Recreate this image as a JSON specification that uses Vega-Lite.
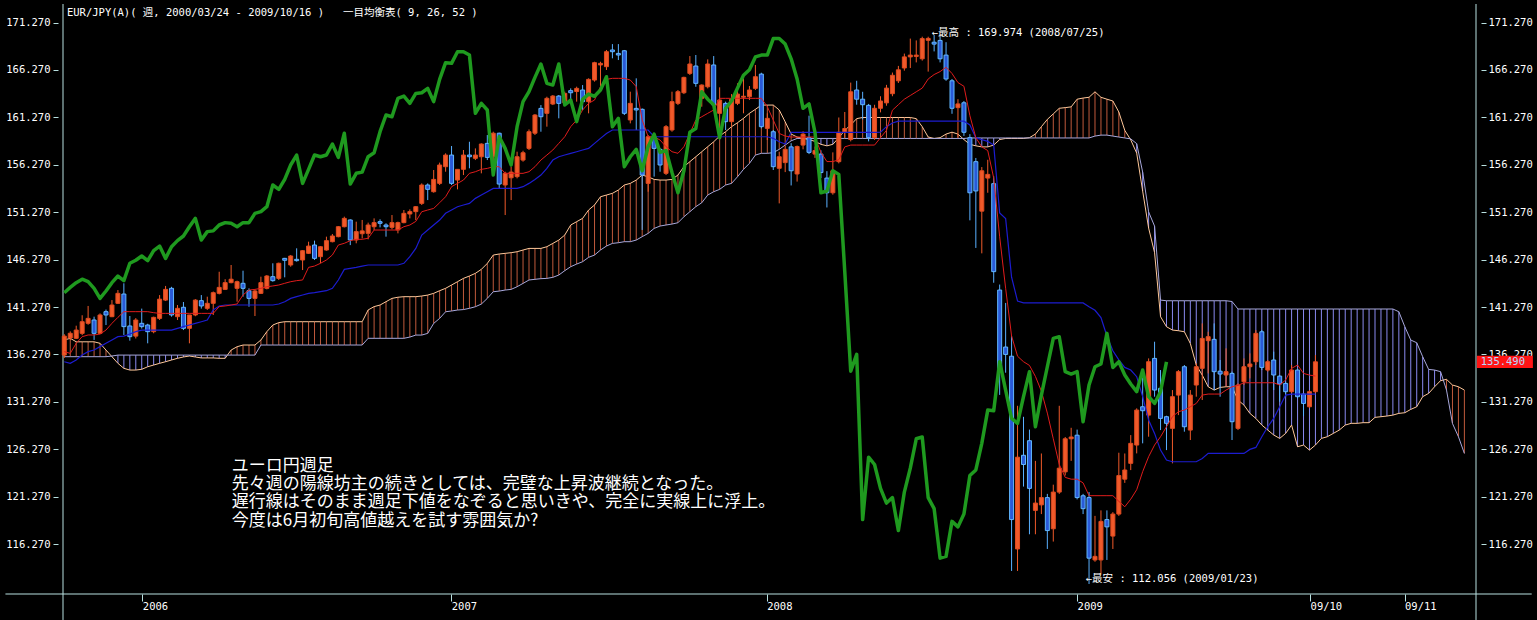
{
"$schema": "https://vega.github.io/schema/vega-lite/v6.json",
"width": 1423,
"height": 590,
"autosize": {"type": "none"},
"padding": {"left": 58, "top": 4, "right": 56, "bottom": 26},
"background": "#000000",
"config": {"view": {"stroke": null}, "axis": {"grid": false, "title": null, "domain": false, "tickColor": "#b8e0e0", "labelColor": "#ffffff", "labelFont": "DejaVu Sans Mono", "labelFontSize": 10.5, "labelOverlap": false, "labelFlush": false}},
"datasets": {
"frame": [
{"x1": -0.217, "x2": -0.217, "y1": 108.26, "y2": 173.23},
{"x1": 236.95, "x2": 236.95, "y1": 108.26, "y2": 173.23},
{"x1": -9.88, "x2": 246.3, "y1": 111.0, "y2": 111.0}
],
"candles": [
{"i":0,"o":136.2,"h":138.4,"l":135.9,"c":138.2},
{"i":1,"o":138.0,"h":138.7,"l":137.8,"c":138.5},
{"i":2,"o":137.97,"h":139.3,"l":137.9,"c":138.84},
{"i":3,"o":138.49,"h":140.4,"l":138.3,"c":139.72},
{"i":4,"o":139.55,"h":141.38,"l":139.4,"c":140.07},
{"i":5,"o":139.9,"h":140.25,"l":137.8,"c":138.49},
{"i":6,"o":138.49,"h":140.6,"l":138.4,"c":140.43},
{"i":7,"o":140.78,"h":141.0,"l":139.37,"c":140.43},
{"i":8,"o":140.25,"h":142.0,"l":140.2,"c":141.48},
{"i":9,"o":141.66,"h":143.06,"l":141.6,"c":142.71},
{"i":10,"o":142.64,"h":143.77,"l":138.32,"c":139.2},
{"i":11,"o":139.27,"h":140.32,"l":137.72,"c":138.14},
{"i":12,"o":138.2,"h":140.1,"l":137.95,"c":139.9},
{"i":13,"o":139.55,"h":141.1,"l":139.0,"c":139.2},
{"i":14,"o":139.37,"h":139.5,"l":137.44,"c":138.67},
{"i":15,"o":138.67,"h":140.25,"l":138.5,"c":140.18},
{"i":16,"o":140.07,"h":142.53,"l":139.9,"c":142.1},
{"i":17,"o":142.0,"h":143.49,"l":141.9,"c":143.13},
{"i":18,"o":143.24,"h":143.4,"l":140.25,"c":140.43},
{"i":19,"o":140.25,"h":141.48,"l":139.9,"c":141.13},
{"i":20,"o":141.24,"h":141.8,"l":138.84,"c":139.02},
{"i":21,"o":139.02,"h":140.43,"l":137.44,"c":140.43},
{"i":22,"o":140.43,"h":142.1,"l":140.3,"c":142.0},
{"i":23,"o":141.94,"h":142.53,"l":141.1,"c":141.38},
{"i":24,"o":141.13,"h":142.36,"l":140.96,"c":141.66},
{"i":25,"o":141.66,"h":142.9,"l":140.43,"c":142.78},
{"i":26,"o":142.71,"h":144.99,"l":142.6,"c":143.34},
{"i":27,"o":143.13,"h":144.2,"l":143.06,"c":143.84},
{"i":28,"o":143.84,"h":145.7,"l":143.77,"c":144.2},
{"i":29,"o":143.24,"h":144.05,"l":141.83,"c":143.94},
{"i":30,"o":143.77,"h":145.1,"l":142.36,"c":143.24},
{"i":31,"o":142.99,"h":143.24,"l":141.3,"c":142.18},
{"i":32,"o":142.18,"h":143.13,"l":140.32,"c":142.96},
{"i":33,"o":142.71,"h":144.47,"l":142.64,"c":143.84},
{"i":34,"o":143.24,"h":144.64,"l":143.13,"c":144.54},
{"i":35,"o":144.47,"h":145.88,"l":143.94,"c":144.05},
{"i":36,"o":144.29,"h":145.95,"l":144.12,"c":145.88},
{"i":37,"o":146.4,"h":146.45,"l":144.4,"c":146.2},
{"i":38,"o":145.7,"h":146.76,"l":145.52,"c":146.65},
{"i":39,"o":146.3,"h":147.46,"l":146.06,"c":146.16},
{"i":40,"o":146.23,"h":147.28,"l":145.17,"c":147.21},
{"i":41,"o":146.93,"h":148.16,"l":146.86,"c":147.7},
{"i":42,"o":147.81,"h":148.27,"l":146.23,"c":146.4},
{"i":43,"o":146.58,"h":147.7,"l":145.88,"c":147.63},
{"i":44,"o":147.28,"h":148.69,"l":147.21,"c":148.27},
{"i":45,"o":148.16,"h":148.97,"l":148.09,"c":148.76},
{"i":46,"o":148.69,"h":149.81,"l":148.62,"c":149.74},
{"i":47,"o":149.74,"h":150.8,"l":149.67,"c":150.62},
{"i":48,"o":150.45,"h":150.52,"l":147.8,"c":148.34},
{"i":49,"o":148.34,"h":150.27,"l":147.99,"c":149.22},
{"i":50,"o":149.0,"h":150.45,"l":148.5,"c":149.3},
{"i":51,"o":149.04,"h":150.17,"l":148.41,"c":149.92},
{"i":52,"o":149.74,"h":150.62,"l":149.39,"c":150.17},
{"i":53,"o":150.27,"h":150.52,"l":149.67,"c":150.1},
{"i":54,"o":149.92,"h":150.1,"l":148.69,"c":149.74},
{"i":55,"o":149.67,"h":150.97,"l":149.46,"c":150.17},
{"i":56,"o":149.4,"h":150.27,"l":149.04,"c":150.17},
{"i":57,"o":150.17,"h":151.5,"l":150.1,"c":151.15},
{"i":58,"o":151.08,"h":151.57,"l":150.62,"c":151.33},
{"i":59,"o":151.33,"h":151.92,"l":150.44,"c":151.85},
{"i":60,"o":152.2,"h":154.31,"l":152.03,"c":154.14},
{"i":61,"o":154.14,"h":154.31,"l":152.55,"c":153.68},
{"i":62,"o":153.43,"h":155.72,"l":153.33,"c":154.73},
{"i":63,"o":154.31,"h":156.5,"l":154.14,"c":156.25},
{"i":64,"o":156.07,"h":157.48,"l":155.54,"c":157.3},
{"i":65,"o":157.3,"h":158.25,"l":154.14,"c":154.31},
{"i":66,"o":154.66,"h":155.79,"l":153.68,"c":155.79},
{"i":67,"o":155.79,"h":157.83,"l":155.19,"c":157.3},
{"i":68,"o":157.3,"h":158.7,"l":155.9,"c":157.12},
{"i":69,"o":156.95,"h":158.0,"l":156.77,"c":157.3},
{"i":70,"o":157.12,"h":158.53,"l":155.37,"c":158.46},
{"i":71,"o":158.53,"h":159.41,"l":156.77,"c":157.05},
{"i":72,"o":157.12,"h":159.76,"l":156.07,"c":159.6},
{"i":73,"o":159.6,"h":159.66,"l":153.8,"c":154.24},
{"i":74,"o":154.14,"h":155.54,"l":150.97,"c":155.37},
{"i":75,"o":154.9,"h":156.07,"l":152.55,"c":155.5},
{"i":76,"o":155.02,"h":157.65,"l":154.84,"c":157.12},
{"i":77,"o":156.77,"h":157.75,"l":156.6,"c":157.54},
{"i":78,"o":158.0,"h":160.0,"l":157.83,"c":159.76},
{"i":79,"o":159.6,"h":161.62,"l":159.41,"c":161.52},
{"i":80,"o":162.22,"h":162.57,"l":159.76,"c":161.34},
{"i":81,"o":161.7,"h":163.45,"l":160.29,"c":163.28},
{"i":82,"o":162.68,"h":163.63,"l":162.57,"c":163.52},
{"i":83,"o":163.52,"h":163.63,"l":161.17,"c":162.75},
{"i":84,"o":162.82,"h":163.98,"l":162.57,"c":163.8},
{"i":85,"o":164.09,"h":164.33,"l":162.82,"c":163.87},
{"i":86,"o":164.0,"h":164.51,"l":162.93,"c":164.33},
{"i":87,"o":164.16,"h":164.68,"l":162.05,"c":162.93},
{"i":88,"o":162.93,"h":165.39,"l":161.7,"c":165.28},
{"i":89,"o":165.21,"h":167.14,"l":165.04,"c":167.04},
{"i":90,"o":166.8,"h":167.14,"l":164.51,"c":166.97},
{"i":91,"o":166.62,"h":168.38,"l":166.27,"c":168.2},
{"i":92,"o":168.38,"h":169.0,"l":167.5,"c":168.2},
{"i":93,"o":168.02,"h":169.0,"l":167.32,"c":167.85},
{"i":94,"o":168.3,"h":168.38,"l":161.52,"c":161.7},
{"i":95,"o":161.0,"h":163.98,"l":160.64,"c":162.75},
{"i":96,"o":162.22,"h":165.39,"l":159.94,"c":162.05},
{"i":97,"o":162.12,"h":162.22,"l":149.4,"c":155.19},
{"i":98,"o":154.31,"h":159.41,"l":153.43,"c":159.23},
{"i":99,"o":159.23,"h":159.58,"l":155.02,"c":158.0},
{"i":100,"o":157.9,"h":158.0,"l":155.54,"c":156.25},
{"i":101,"o":155.37,"h":160.46,"l":155.19,"c":160.29},
{"i":102,"o":159.94,"h":163.98,"l":159.76,"c":162.93},
{"i":103,"o":162.75,"h":164.16,"l":162.57,"c":163.98},
{"i":104,"o":163.87,"h":165.56,"l":163.73,"c":165.49},
{"i":105,"o":165.91,"h":167.74,"l":165.74,"c":166.9},
{"i":106,"o":166.69,"h":167.85,"l":164.5,"c":164.86},
{"i":107,"o":163.28,"h":164.75,"l":162.4,"c":164.68},
{"i":108,"o":164.5,"h":167.39,"l":164.33,"c":166.9},
{"i":109,"o":166.8,"h":167.74,"l":162.4,"c":162.58},
{"i":110,"o":161.7,"h":164.44,"l":159.94,"c":163.1},
{"i":111,"o":162.75,"h":162.93,"l":159.94,"c":160.82},
{"i":112,"o":160.82,"h":163.73,"l":160.29,"c":163.17},
{"i":113,"o":162.75,"h":164.86,"l":162.57,"c":163.73},
{"i":114,"o":163.4,"h":165.39,"l":161.7,"c":163.5},
{"i":115,"o":163.45,"h":164.58,"l":163.1,"c":164.16},
{"i":116,"o":164.33,"h":166.8,"l":164.16,"c":165.56},
{"i":117,"o":165.84,"h":165.98,"l":160.11,"c":160.29},
{"i":118,"o":160.11,"h":161.7,"l":158.88,"c":161.17},
{"i":119,"o":159.76,"h":159.94,"l":155.72,"c":156.07},
{"i":120,"o":155.9,"h":157.65,"l":152.2,"c":157.12},
{"i":121,"o":156.5,"h":158.3,"l":155.5,"c":157.9},
{"i":122,"o":158.16,"h":158.55,"l":154.09,"c":155.64},
{"i":123,"o":155.3,"h":158.3,"l":154.5,"c":158.2},
{"i":124,"o":158.35,"h":159.8,"l":157.9,"c":159.5},
{"i":125,"o":159.13,"h":161.45,"l":157.4,"c":157.58},
{"i":126,"o":157.4,"h":158.2,"l":157.0,"c":157.77},
{"i":127,"o":157.4,"h":157.8,"l":154.87,"c":155.45},
{"i":128,"o":154.87,"h":155.6,"l":151.77,"c":153.32},
{"i":129,"o":153.32,"h":157.58,"l":153.12,"c":155.64},
{"i":130,"o":156.6,"h":161.26,"l":156.42,"c":159.7},
{"i":131,"o":159.7,"h":161.84,"l":159.13,"c":160.1},
{"i":132,"o":158.93,"h":164.94,"l":158.74,"c":163.97},
{"i":133,"o":164.16,"h":165.13,"l":162.61,"c":163.19},
{"i":134,"o":163.19,"h":163.97,"l":161.06,"c":162.61},
{"i":135,"o":162.54,"h":162.69,"l":158.74,"c":159.13},
{"i":136,"o":159.13,"h":162.6,"l":158.9,"c":162.23},
{"i":137,"o":162.23,"h":163.5,"l":161.8,"c":163.0},
{"i":138,"o":162.8,"h":164.7,"l":162.5,"c":164.36},
{"i":139,"o":163.77,"h":166.0,"l":163.5,"c":165.71},
{"i":140,"o":165.13,"h":166.7,"l":164.9,"c":166.29},
{"i":141,"o":166.48,"h":168.0,"l":166.2,"c":167.65},
{"i":142,"o":167.65,"h":169.58,"l":166.48,"c":167.84},
{"i":143,"o":167.7,"h":169.39,"l":167.07,"c":167.84},
{"i":144,"o":167.45,"h":169.78,"l":167.26,"c":169.58},
{"i":145,"o":169.4,"h":169.78,"l":166.1,"c":169.6},
{"i":146,"o":169.2,"h":169.974,"l":168.23,"c":169.0},
{"i":147,"o":169.39,"h":169.8,"l":167.07,"c":167.45},
{"i":148,"o":167.84,"h":169.2,"l":165.13,"c":165.32},
{"i":149,"o":165.13,"h":165.32,"l":161.65,"c":162.23},
{"i":150,"o":162.3,"h":163.19,"l":159.13,"c":162.69},
{"i":151,"o":162.81,"h":163.0,"l":159.32,"c":159.7},
{"i":152,"o":159.13,"h":159.5,"l":150.41,"c":153.32},
{"i":153,"o":156.6,"h":156.99,"l":147.5,"c":153.51},
{"i":154,"o":151.38,"h":156.03,"l":146.93,"c":155.64},
{"i":155,"o":154.87,"h":156.8,"l":153.32,"c":155.26},
{"i":156,"o":154.28,"h":155.06,"l":143.83,"c":145.0},
{"i":157,"o":143.06,"h":143.64,"l":132.0,"c":134.5},
{"i":158,"o":137.05,"h":141.7,"l":134.34,"c":136.27},
{"i":159,"o":136.08,"h":138.2,"l":113.43,"c":118.85},
{"i":160,"o":115.75,"h":130.85,"l":113.43,"c":125.43},
{"i":161,"o":125.63,"h":129.69,"l":122.33,"c":124.66},
{"i":162,"o":127.17,"h":128.34,"l":117.3,"c":122.14},
{"i":163,"o":119.82,"h":125.04,"l":117.3,"c":120.59},
{"i":164,"o":120.4,"h":125.82,"l":119.43,"c":121.17},
{"i":165,"o":121.17,"h":121.56,"l":115.75,"c":117.69},
{"i":166,"o":117.88,"h":122.53,"l":116.53,"c":121.75},
{"i":167,"o":121.75,"h":130.85,"l":121.56,"c":124.27},
{"i":168,"o":123.88,"h":127.56,"l":123.5,"c":127.37},
{"i":169,"o":127.37,"h":128.53,"l":125.04,"c":127.56},
{"i":170,"o":127.75,"h":128.34,"l":120.98,"c":121.17},
{"i":171,"o":121.36,"h":121.56,"l":119.43,"c":120.0},
{"i":172,"o":121.17,"h":121.75,"l":112.056,"c":114.78},
{"i":173,"o":114.59,"h":119.24,"l":114.4,"c":114.97},
{"i":174,"o":114.59,"h":119.82,"l":113.04,"c":118.66},
{"i":175,"o":118.85,"h":119.82,"l":114.59,"c":118.08},
{"i":176,"o":117.11,"h":119.63,"l":115.75,"c":119.43},
{"i":177,"o":119.43,"h":125.9,"l":119.24,"c":123.49},
{"i":178,"o":123.11,"h":125.82,"l":122.72,"c":124.08},
{"i":179,"o":124.78,"h":127.76,"l":124.07,"c":126.89},
{"i":180,"o":126.71,"h":130.58,"l":125.83,"c":130.4},
{"i":181,"o":130.75,"h":134.62,"l":126.89,"c":130.33},
{"i":182,"o":129.87,"h":135.85,"l":127.59,"c":135.5},
{"i":183,"o":135.85,"h":137.61,"l":131.81,"c":132.51},
{"i":184,"o":132.69,"h":134.62,"l":128.29,"c":129.52},
{"i":185,"o":129.7,"h":129.8,"l":126.18,"c":129.0},
{"i":186,"o":128.47,"h":132.51,"l":124.78,"c":131.81},
{"i":187,"o":131.98,"h":134.62,"l":129.87,"c":134.45},
{"i":188,"o":134.97,"h":135.15,"l":128.12,"c":128.64},
{"i":189,"o":128.29,"h":132.51,"l":127.24,"c":131.98},
{"i":190,"o":133.04,"h":135.32,"l":131.81,"c":134.97},
{"i":191,"o":134.8,"h":139.54,"l":131.46,"c":137.96},
{"i":192,"o":137.72,"h":138.66,"l":134.27,"c":138.14},
{"i":193,"o":137.86,"h":139.54,"l":132.51,"c":134.45},
{"i":194,"o":134.5,"h":135.68,"l":131.81,"c":134.2},
{"i":195,"o":134.1,"h":136.91,"l":132.86,"c":134.45},
{"i":196,"o":134.27,"h":134.45,"l":127.24,"c":129.17},
{"i":197,"o":128.47,"h":133.21,"l":128.29,"c":133.04},
{"i":198,"o":133.39,"h":135.85,"l":133.04,"c":134.97},
{"i":199,"o":134.97,"h":136.38,"l":133.74,"c":135.26},
{"i":200,"o":135.5,"h":138.84,"l":135.15,"c":138.49},
{"i":201,"o":138.66,"h":138.84,"l":134.62,"c":134.9},
{"i":202,"o":134.62,"h":135.68,"l":134.45,"c":135.5},
{"i":203,"o":135.68,"h":136.56,"l":132.51,"c":134.1},
{"i":204,"o":133.98,"h":134.1,"l":131.28,"c":133.15},
{"i":205,"o":133.21,"h":133.4,"l":131.81,"c":132.34},
{"i":206,"o":132.34,"h":135.15,"l":132.16,"c":134.62},
{"i":207,"o":134.62,"h":134.7,"l":131.63,"c":131.81},
{"i":208,"o":132.09,"h":132.16,"l":129.77,"c":131.1},
{"i":209,"o":130.75,"h":132.51,"l":130.6,"c":132.34},
{"i":210,"o":132.34,"h":136.2,"l":132.16,"c":135.49}
],
"lines": [
{"i":0,"tk":136.56,"kj":135.5},{"i":1,"tk":136.38,"kj":135.33},{"i":2,"tk":137.44,"kj":135.68},{"i":3,"tk":138.14,"kj":136.21},{"i":4,"tk":138.32,"kj":136.56},{"i":5,"tk":138.32,"kj":136.73},{"i":6,"tk":138.42,"kj":137.09},{"i":7,"tk":138.84,"kj":137.44},{"i":8,"tk":139.55,"kj":137.79},{"i":9,"tk":140.18,"kj":138.14},
{"i":10,"tk":140.78,"kj":138.2},{"i":11,"tk":140.78,"kj":138.42},{"i":12,"tk":140.78,"kj":138.67},{"i":13,"tk":140.78,"kj":138.84},{"i":14,"tk":140.78,"kj":138.84},{"i":15,"tk":140.67,"kj":138.84},{"i":16,"tk":140.6,"kj":138.84},{"i":17,"tk":140.6,"kj":138.84},{"i":18,"tk":140.6,"kj":138.84},{"i":19,"tk":140.6,"kj":139.02},
{"i":20,"tk":140.6,"kj":139.2},{"i":21,"tk":140.6,"kj":139.37},{"i":22,"tk":140.6,"kj":139.55},{"i":23,"tk":140.6,"kj":139.72},{"i":24,"tk":140.6,"kj":139.9},{"i":25,"tk":140.6,"kj":140.95},{"i":26,"tk":141.31,"kj":141.38},{"i":27,"tk":141.38,"kj":141.48},{"i":28,"tk":141.48,"kj":141.48},{"i":29,"tk":141.59,"kj":141.48},
{"i":30,"tk":142.54,"kj":141.48},{"i":31,"tk":143.06,"kj":141.48},{"i":32,"tk":143.13,"kj":141.48},{"i":33,"tk":143.24,"kj":141.48},{"i":34,"tk":143.41,"kj":141.48},{"i":35,"tk":143.49,"kj":141.48},{"i":36,"tk":143.59,"kj":141.59},{"i":37,"tk":143.77,"kj":141.83},{"i":38,"tk":143.94,"kj":142.18},{"i":39,"tk":144.05,"kj":142.36},
{"i":40,"tk":144.12,"kj":142.54},{"i":41,"tk":145.45,"kj":142.71},{"i":42,"tk":145.59,"kj":142.78},{"i":43,"tk":145.88,"kj":142.89},{"i":44,"tk":146.23,"kj":142.99},{"i":45,"tk":146.76,"kj":143.24},{"i":46,"tk":147.81,"kj":144.12},{"i":47,"tk":147.99,"kj":145.24},{"i":48,"tk":148.27,"kj":145.35},{"i":49,"tk":148.41,"kj":145.45},
{"i":50,"tk":148.41,"kj":145.59},{"i":51,"tk":148.52,"kj":145.7},{"i":52,"tk":149.39,"kj":145.7},{"i":53,"tk":149.39,"kj":145.7},{"i":54,"tk":149.39,"kj":145.7},{"i":55,"tk":149.39,"kj":145.7},{"i":56,"tk":149.39,"kj":145.7},{"i":57,"tk":149.74,"kj":145.88},{"i":58,"tk":149.92,"kj":146.58},{"i":59,"tk":150.3,"kj":147.45},
{"i":60,"tk":151.32,"kj":148.86},{"i":61,"tk":151.5,"kj":149.39},{"i":62,"tk":151.67,"kj":149.92},{"i":63,"tk":152.27,"kj":150.44},{"i":64,"tk":152.9,"kj":151.15},{"i":65,"tk":153.96,"kj":151.5},{"i":66,"tk":154.31,"kj":151.85},{"i":67,"tk":154.66,"kj":152.03},{"i":68,"tk":155.37,"kj":152.2},{"i":69,"tk":155.54,"kj":152.73},
{"i":70,"tk":155.79,"kj":153.08},{"i":71,"tk":155.89,"kj":153.43},{"i":72,"tk":156.07,"kj":153.78},{"i":73,"tk":156.07,"kj":153.78},{"i":74,"tk":155.37,"kj":153.78},{"i":75,"tk":155.37,"kj":153.78},{"i":76,"tk":155.37,"kj":153.78},{"i":77,"tk":155.37,"kj":153.96},{"i":78,"tk":155.54,"kj":154.31},{"i":79,"tk":156.07,"kj":154.73},
{"i":80,"tk":156.77,"kj":155.19},{"i":81,"tk":157.3,"kj":155.89},{"i":82,"tk":157.83,"kj":156.77},{"i":83,"tk":158.53,"kj":157.12},{"i":84,"tk":159.23,"kj":157.3},{"i":85,"tk":160.29,"kj":157.48},{"i":86,"tk":160.99,"kj":157.65},{"i":87,"tk":162.05,"kj":157.83},{"i":88,"tk":162.75,"kj":158.0},{"i":89,"tk":163.1,"kj":158.53},
{"i":90,"tk":164.51,"kj":159.06},{"i":91,"tk":165.28,"kj":159.58},{"i":92,"tk":165.39,"kj":159.94},{"i":93,"tk":165.39,"kj":159.94},{"i":94,"tk":165.39,"kj":159.94},{"i":95,"tk":165.21,"kj":159.94},{"i":96,"tk":164.51,"kj":159.94},{"i":97,"tk":160.99,"kj":159.94},{"i":98,"tk":159.23,"kj":159.94},{"i":99,"tk":159.23,"kj":159.23},
{"i":100,"tk":158.88,"kj":159.23},{"i":101,"tk":158.18,"kj":159.23},{"i":102,"tk":157.65,"kj":159.23},{"i":103,"tk":157.48,"kj":159.23},{"i":104,"tk":158.18,"kj":159.23},{"i":105,"tk":159.58,"kj":159.23},{"i":106,"tk":160.99,"kj":159.23},{"i":107,"tk":161.34,"kj":159.23},{"i":108,"tk":161.7,"kj":159.23},{"i":109,"tk":162.05,"kj":159.23},
{"i":110,"tk":163.28,"kj":159.23},{"i":111,"tk":163.28,"kj":159.23},{"i":112,"tk":163.28,"kj":159.23},{"i":113,"tk":163.28,"kj":159.23},{"i":114,"tk":163.28,"kj":159.23},{"i":115,"tk":163.28,"kj":159.23},{"i":116,"tk":163.28,"kj":159.23},{"i":117,"tk":163.28,"kj":159.23},{"i":118,"tk":162.4,"kj":159.23},{"i":119,"tk":160.99,"kj":159.06},
{"i":120,"tk":159.58,"kj":158.7},{"i":121,"tk":159.3,"kj":158.46},{"i":122,"tk":159.2,"kj":159.7},{"i":123,"tk":159.2,"kj":159.7},{"i":124,"tk":159.2,"kj":159.7},{"i":125,"tk":159.2,"kj":159.7},{"i":126,"tk":159.2,"kj":159.7},{"i":127,"tk":157.58,"kj":159.7},{"i":128,"tk":156.61,"kj":159.7},{"i":129,"tk":156.61,"kj":159.7},
{"i":130,"tk":156.8,"kj":159.7},{"i":131,"tk":158.16,"kj":159.7},{"i":132,"tk":158.35,"kj":159.7},{"i":133,"tk":158.35,"kj":159.7},{"i":134,"tk":158.35,"kj":159.7},{"i":135,"tk":158.35,"kj":159.7},{"i":136,"tk":158.35,"kj":159.7},{"i":137,"tk":159.13,"kj":159.71},{"i":138,"tk":159.9,"kj":160.29},{"i":139,"tk":162.03,"kj":160.68},
{"i":140,"tk":162.61,"kj":160.87},{"i":141,"tk":163.19,"kj":160.87},{"i":142,"tk":163.58,"kj":160.87},{"i":143,"tk":163.97,"kj":160.87},{"i":144,"tk":164.36,"kj":160.87},{"i":145,"tk":165.32,"kj":160.87},{"i":146,"tk":165.79,"kj":160.87},{"i":147,"tk":166.1,"kj":160.87},{"i":148,"tk":166.56,"kj":160.87},{"i":149,"tk":165.9,"kj":160.87},
{"i":150,"tk":164.94,"kj":160.87},{"i":151,"tk":164.55,"kj":160.87},{"i":152,"tk":161.45,"kj":160.48},{"i":153,"tk":159.13,"kj":159.13},{"i":154,"tk":158.16,"kj":158.93},{"i":155,"tk":157.77,"kj":158.74},{"i":156,"tk":154.87,"kj":158.35},{"i":157,"tk":148.67,"kj":151.19},{"i":158,"tk":143.25,"kj":150.6},{"i":159,"tk":138.21,"kj":144.41},
{"i":160,"tk":136.08,"kj":141.89},{"i":161,"tk":135.5,"kj":141.7},{"i":162,"tk":135.11,"kj":141.7},{"i":163,"tk":133.95,"kj":141.7},{"i":164,"tk":132.4,"kj":141.7},{"i":165,"tk":130.08,"kj":141.7},{"i":166,"tk":127.37,"kj":141.7},{"i":167,"tk":124.66,"kj":141.7},{"i":168,"tk":123.3,"kj":141.7},{"i":169,"tk":123.11,"kj":141.7},
{"i":170,"tk":123.11,"kj":141.7},{"i":171,"tk":122.72,"kj":141.7},{"i":172,"tk":121.37,"kj":141.3},{"i":173,"tk":121.37,"kj":140.92},{"i":174,"tk":121.37,"kj":140.15},{"i":175,"tk":121.37,"kj":138.21},{"i":176,"tk":121.37,"kj":136.66},{"i":177,"tk":120.78,"kj":135.7},{"i":178,"tk":120.2,"kj":134.9},{"i":179,"tk":121.0,"kj":134.62},
{"i":180,"tk":122.0,"kj":133.92},{"i":181,"tk":123.9,"kj":131.81},{"i":182,"tk":125.48,"kj":129.35},{"i":183,"tk":126.71,"kj":127.94},{"i":184,"tk":127.59,"kj":126.18},{"i":185,"tk":128.64,"kj":125.13},{"i":186,"tk":129.7,"kj":124.95},{"i":187,"tk":130.23,"kj":124.95},{"i":188,"tk":130.4,"kj":124.95},{"i":189,"tk":130.75,"kj":124.95},
{"i":190,"tk":131.1,"kj":124.95},{"i":191,"tk":131.98,"kj":125.3},{"i":192,"tk":132.09,"kj":125.83},{"i":193,"tk":132.09,"kj":125.83},{"i":194,"tk":132.09,"kj":125.83},{"i":195,"tk":132.51,"kj":125.83},{"i":196,"tk":132.86,"kj":125.83},{"i":197,"tk":133.0,"kj":125.83},{"i":198,"tk":133.28,"kj":125.83},{"i":199,"tk":133.28,"kj":126.25},
{"i":200,"tk":133.28,"kj":126.46},{"i":201,"tk":133.28,"kj":127.59},{"i":202,"tk":133.28,"kj":128.64},{"i":203,"tk":133.28,"kj":129.52},{"i":204,"tk":133.04,"kj":130.75},{"i":205,"tk":133.57,"kj":131.98},{"i":206,"tk":134.8,"kj":132.09},{"i":207,"tk":135.15,"kj":132.09},{"i":208,"tk":134.27,"kj":132.09},{"i":209,"tk":134.09,"kj":132.09},
{"i":210,"tk":133.99,"kj":132.09}
],
"cloud": [
{"i":0,"a":137.79,"b":136.03},{"i":1,"a":137.97,"b":136.03},{"i":2,"a":137.6,"b":136.03},{"i":3,"a":137.6,"b":136.03},{"i":4,"a":137.6,"b":136.03},{"i":5,"a":137.6,"b":136.03},{"i":6,"a":137.44,"b":136.03},{"i":7,"a":136.73,"b":136.03},{"i":8,"a":136.03,"b":136.1},{"i":9,"a":135.33,"b":136.2},
{"i":10,"a":134.8,"b":136.2},{"i":11,"a":134.62,"b":136.2},{"i":12,"a":134.62,"b":136.2},{"i":13,"a":134.7,"b":136.2},{"i":14,"a":134.97,"b":136.2},{"i":15,"a":135.15,"b":136.2},{"i":16,"a":135.33,"b":136.2},{"i":17,"a":135.5,"b":136.2},{"i":18,"a":135.68,"b":136.2},{"i":19,"a":135.86,"b":136.2},
{"i":20,"a":136.0,"b":136.2},{"i":21,"a":136.1,"b":136.2},{"i":22,"a":136.0,"b":136.2},{"i":23,"a":135.9,"b":136.2},{"i":24,"a":135.9,"b":136.2},{"i":25,"a":135.9,"b":136.2},{"i":26,"a":135.86,"b":136.2},{"i":27,"a":135.86,"b":136.2},{"i":28,"a":136.73,"b":136.2},{"i":29,"a":137.08,"b":136.2},
{"i":30,"a":137.26,"b":136.2},{"i":31,"a":137.26,"b":136.2},{"i":32,"a":137.26,"b":136.2},{"i":33,"a":137.79,"b":137.26},{"i":34,"a":138.67,"b":137.26},{"i":35,"a":139.37,"b":137.26},{"i":36,"a":139.62,"b":137.26},{"i":37,"a":139.72,"b":137.26},{"i":38,"a":139.72,"b":137.26},{"i":39,"a":139.72,"b":137.26},
{"i":40,"a":139.72,"b":137.26},{"i":41,"a":139.72,"b":137.26},{"i":42,"a":139.72,"b":137.26},{"i":43,"a":139.72,"b":137.26},{"i":44,"a":139.72,"b":137.26},{"i":45,"a":139.72,"b":137.26},{"i":46,"a":139.72,"b":137.26},{"i":47,"a":139.72,"b":137.26},{"i":48,"a":139.72,"b":137.26},{"i":49,"a":139.72,"b":137.26},
{"i":50,"a":139.72,"b":137.26},{"i":51,"a":140.96,"b":137.97},{"i":52,"a":141.31,"b":137.97},{"i":53,"a":141.48,"b":137.97},{"i":54,"a":141.83,"b":137.97},{"i":55,"a":142.18,"b":137.97},{"i":56,"a":142.3,"b":137.97},{"i":57,"a":142.36,"b":137.97},{"i":58,"a":142.36,"b":138.1},{"i":59,"a":142.36,"b":138.31},
{"i":60,"a":142.43,"b":138.31},{"i":61,"a":142.53,"b":138.49},{"i":62,"a":142.71,"b":139.54},{"i":63,"a":142.99,"b":140.07},{"i":64,"a":143.24,"b":140.77},{"i":65,"a":143.59,"b":140.85},{"i":66,"a":143.94,"b":140.95},{"i":67,"a":144.29,"b":141.0},{"i":68,"a":144.54,"b":141.13},{"i":69,"a":144.82,"b":141.3},
{"i":70,"a":145.24,"b":141.58},{"i":71,"a":145.87,"b":142.18},{"i":72,"a":146.75,"b":142.88},{"i":73,"a":146.86,"b":142.95},{"i":74,"a":146.93,"b":143.06},{"i":75,"a":147.0,"b":143.13},{"i":76,"a":147.1,"b":143.41},{"i":77,"a":147.28,"b":143.76},{"i":78,"a":147.45,"b":144.12},{"i":79,"a":147.45,"b":144.19},
{"i":80,"a":147.45,"b":144.26},{"i":81,"a":147.63,"b":144.29},{"i":82,"a":147.98,"b":144.4},{"i":83,"a":148.33,"b":144.64},{"i":84,"a":148.86,"b":145.1},{"i":85,"a":149.92,"b":145.52},{"i":86,"a":150.27,"b":145.8},{"i":87,"a":150.62,"b":146.05},{"i":88,"a":151.5,"b":146.51},{"i":89,"a":152.03,"b":146.75},
{"i":90,"a":152.9,"b":147.28},{"i":91,"a":153.08,"b":147.7},{"i":92,"a":153.26,"b":147.98},{"i":93,"a":153.61,"b":148.05},{"i":94,"a":154.14,"b":148.16},{"i":95,"a":154.31,"b":148.16},{"i":96,"a":154.66,"b":148.33},{"i":97,"a":155.19,"b":148.69},{"i":98,"a":155.0,"b":149.04},{"i":99,"a":154.73,"b":149.56},
{"i":100,"a":154.66,"b":149.81},{"i":101,"a":154.66,"b":149.92},{"i":102,"a":154.73,"b":150.02},{"i":103,"a":155.19,"b":150.16},{"i":104,"a":156.07,"b":150.79},{"i":105,"a":156.6,"b":151.32},{"i":106,"a":157.12,"b":151.85},{"i":107,"a":157.65,"b":152.27},{"i":108,"a":158.18,"b":153.08},{"i":109,"a":158.7,"b":153.43},
{"i":110,"a":159.3,"b":153.68},{"i":111,"a":159.76,"b":154.14},{"i":112,"a":160.29,"b":154.31},{"i":113,"a":160.71,"b":155.01},{"i":114,"a":161.17,"b":155.79},{"i":115,"a":161.7,"b":156.42},{"i":116,"a":162.12,"b":157.3},{"i":117,"a":162.57,"b":157.48},{"i":118,"a":162.57,"b":157.48},{"i":119,"a":162.57,"b":157.55},
{"i":120,"a":162.05,"b":157.9},{"i":121,"a":160.8,"b":158.35},{"i":122,"a":159.51,"b":158.8},{"i":123,"a":159.2,"b":159.05},{"i":124,"a":159.05,"b":159.05},{"i":125,"a":158.93,"b":159.05},{"i":126,"a":158.74,"b":159.05},{"i":127,"a":158.43,"b":159.05},{"i":128,"a":158.27,"b":159.05},{"i":129,"a":158.43,"b":159.05},
{"i":130,"a":159.13,"b":159.05},{"i":131,"a":159.9,"b":159.05},{"i":132,"a":160.48,"b":159.05},{"i":133,"a":161.14,"b":159.05},{"i":134,"a":161.26,"b":159.05},{"i":135,"a":161.26,"b":159.05},{"i":136,"a":161.26,"b":159.05},{"i":137,"a":161.26,"b":159.05},{"i":138,"a":161.26,"b":159.05},{"i":139,"a":161.26,"b":159.05},
{"i":140,"a":161.26,"b":159.05},{"i":141,"a":161.26,"b":159.05},{"i":142,"a":161.26,"b":159.05},{"i":143,"a":161.14,"b":159.05},{"i":144,"a":160.29,"b":159.05},{"i":145,"a":159.2,"b":159.05},{"i":146,"a":159.05,"b":159.05},{"i":147,"a":159.13,"b":159.05},{"i":148,"a":159.51,"b":159.05},{"i":149,"a":159.71,"b":159.05},
{"i":150,"a":159.51,"b":159.05},{"i":151,"a":158.93,"b":159.05},{"i":152,"a":158.43,"b":159.1},{"i":153,"a":158.27,"b":159.1},{"i":154,"a":158.16,"b":159.1},{"i":155,"a":158.16,"b":159.1},{"i":156,"a":158.35,"b":159.1},{"i":157,"a":158.93,"b":159.1},{"i":158,"a":159.05,"b":159.1},{"i":159,"a":159.05,"b":159.1},
{"i":160,"a":159.05,"b":159.1},{"i":161,"a":159.05,"b":159.1},{"i":162,"a":159.13,"b":159.1},{"i":163,"a":159.51,"b":159.1},{"i":164,"a":160.29,"b":159.1},{"i":165,"a":161.06,"b":159.1},{"i":166,"a":161.64,"b":159.1},{"i":167,"a":162.23,"b":159.1},{"i":168,"a":162.3,"b":159.1},{"i":169,"a":162.38,"b":159.1},
{"i":170,"a":163.19,"b":159.1},{"i":171,"a":163.31,"b":159.1},{"i":172,"a":163.39,"b":159.1},{"i":173,"a":163.97,"b":159.3},{"i":174,"a":163.39,"b":159.4},{"i":175,"a":163.19,"b":159.4},{"i":176,"a":163.0,"b":159.3},{"i":177,"a":161.84,"b":159.2},{"i":178,"a":159.9,"b":159.1},{"i":179,"a":158.9,"b":159.0},
{"i":180,"a":157.5,"b":158.5},{"i":181,"a":153.5,"b":155.5},{"i":182,"a":149.6,"b":151.3},{"i":183,"a":147.0,"b":149.8},{"i":184,"a":140.25,"b":142.0},{"i":185,"a":139.19,"b":141.93},{"i":186,"a":138.84,"b":141.93},{"i":187,"a":138.77,"b":141.93},{"i":188,"a":138.66,"b":141.93},{"i":189,"a":137.43,"b":141.93},
{"i":190,"a":135.15,"b":141.93},{"i":191,"a":134.09,"b":141.93},{"i":192,"a":132.86,"b":141.93},{"i":193,"a":132.51,"b":141.93},{"i":194,"a":132.79,"b":141.93},{"i":195,"a":132.86,"b":141.93},{"i":196,"a":132.86,"b":141.85},{"i":197,"a":131.46,"b":141.06},{"i":198,"a":130.93,"b":141.06},{"i":199,"a":130.05,"b":141.06},
{"i":200,"a":129.52,"b":141.06},{"i":201,"a":128.82,"b":141.06},{"i":202,"a":128.29,"b":141.06},{"i":203,"a":127.77,"b":141.06},{"i":204,"a":127.41,"b":141.06},{"i":205,"a":127.94,"b":141.06},{"i":206,"a":128.82,"b":141.06},{"i":207,"a":126.53,"b":141.06},{"i":208,"a":126.71,"b":141.06},{"i":209,"a":126.18,"b":141.06},
{"i":210,"a":126.71,"b":141.06},{"i":211,"a":127.41,"b":141.06},{"i":212,"a":127.59,"b":141.06},{"i":213,"a":127.94,"b":141.06},{"i":214,"a":128.29,"b":141.06},{"i":215,"a":128.82,"b":141.06},{"i":216,"a":129.0,"b":141.06},{"i":217,"a":129.0,"b":141.06},{"i":218,"a":129.07,"b":141.06},{"i":219,"a":129.07,"b":141.06},
{"i":220,"a":129.63,"b":141.06},{"i":221,"a":129.7,"b":141.06},{"i":222,"a":129.77,"b":141.06},{"i":223,"a":129.87,"b":141.06},{"i":224,"a":130.05,"b":140.77},{"i":225,"a":130.12,"b":139.19},{"i":226,"a":130.47,"b":137.79},{"i":227,"a":130.75,"b":137.5},{"i":228,"a":131.81,"b":136.03},{"i":229,"a":132.16,"b":134.69},
{"i":230,"a":132.86,"b":134.62},{"i":231,"a":133.5,"b":134.45},{"i":232,"a":133.64,"b":132.51},{"i":233,"a":133.04,"b":128.99},{"i":234,"a":132.86,"b":127.59},{"i":235,"a":132.51,"b":125.83}
],
"chikou": [
{"i":0,"v":142.78},{"i":1,"v":143.34},{"i":2,"v":143.84},{"i":3,"v":144.2},{"i":4,"v":143.94},{"i":5,"v":143.24},{"i":6,"v":142.18},{"i":7,"v":142.96},{"i":8,"v":143.84},{"i":9,"v":144.54},
{"i":10,"v":144.05},{"i":11,"v":145.88},{"i":12,"v":146.2},{"i":13,"v":146.65},{"i":14,"v":146.16},{"i":15,"v":147.21},{"i":16,"v":147.7},{"i":17,"v":146.4},{"i":18,"v":147.63},{"i":19,"v":148.27},
{"i":20,"v":148.76},{"i":21,"v":149.74},{"i":22,"v":150.62},{"i":23,"v":148.34},{"i":24,"v":149.22},{"i":25,"v":149.3},{"i":26,"v":149.92},{"i":27,"v":150.17},{"i":28,"v":150.1},{"i":29,"v":149.74},
{"i":30,"v":150.17},{"i":31,"v":150.17},{"i":32,"v":151.15},{"i":33,"v":151.33},{"i":34,"v":151.85},{"i":35,"v":154.14},{"i":36,"v":153.68},{"i":37,"v":154.73},{"i":38,"v":156.25},{"i":39,"v":157.3},
{"i":40,"v":154.31},{"i":41,"v":155.79},{"i":42,"v":157.3},{"i":43,"v":157.12},{"i":44,"v":157.3},{"i":45,"v":158.46},{"i":46,"v":157.05},{"i":47,"v":159.6},{"i":48,"v":154.24},{"i":49,"v":155.37},
{"i":50,"v":155.5},{"i":51,"v":157.12},{"i":52,"v":157.54},{"i":53,"v":159.76},{"i":54,"v":161.52},{"i":55,"v":161.34},{"i":56,"v":163.28},{"i":57,"v":163.52},{"i":58,"v":162.75},{"i":59,"v":163.8},
{"i":60,"v":163.87},{"i":61,"v":164.33},{"i":62,"v":162.93},{"i":63,"v":165.28},{"i":64,"v":167.04},{"i":65,"v":166.97},{"i":66,"v":168.2},{"i":67,"v":168.2},{"i":68,"v":167.85},{"i":69,"v":161.7},
{"i":70,"v":162.75},{"i":71,"v":162.05},{"i":72,"v":155.19},{"i":73,"v":159.23},{"i":74,"v":158.0},{"i":75,"v":156.25},{"i":76,"v":160.29},{"i":77,"v":162.93},{"i":78,"v":163.98},{"i":79,"v":165.49},
{"i":80,"v":166.9},{"i":81,"v":164.86},{"i":82,"v":164.68},{"i":83,"v":166.9},{"i":84,"v":162.58},{"i":85,"v":163.1},{"i":86,"v":160.82},{"i":87,"v":163.17},{"i":88,"v":163.73},{"i":89,"v":163.5},
{"i":90,"v":164.16},{"i":91,"v":165.56},{"i":92,"v":160.29},{"i":93,"v":161.17},{"i":94,"v":156.07},{"i":95,"v":157.12},{"i":96,"v":157.9},{"i":97,"v":155.64},{"i":98,"v":158.2},{"i":99,"v":159.5},
{"i":100,"v":157.58},{"i":101,"v":157.77},{"i":102,"v":155.45},{"i":103,"v":153.32},{"i":104,"v":155.64},{"i":105,"v":159.7},{"i":106,"v":160.1},{"i":107,"v":163.97},{"i":108,"v":163.19},{"i":109,"v":162.61},
{"i":110,"v":159.13},{"i":111,"v":162.23},{"i":112,"v":163.0},{"i":113,"v":164.36},{"i":114,"v":165.71},{"i":115,"v":166.29},{"i":116,"v":167.65},{"i":117,"v":167.84},{"i":118,"v":167.84},{"i":119,"v":169.58},
{"i":120,"v":169.6},{"i":121,"v":169.0},{"i":122,"v":167.45},{"i":123,"v":165.32},{"i":124,"v":162.23},{"i":125,"v":162.69},{"i":126,"v":159.7},{"i":127,"v":153.32},{"i":128,"v":153.51},{"i":129,"v":155.64},
{"i":130,"v":155.26},{"i":131,"v":145.0},{"i":132,"v":134.5},{"i":133,"v":136.27},{"i":134,"v":118.85},{"i":135,"v":125.43},{"i":136,"v":124.66},{"i":137,"v":122.14},{"i":138,"v":120.59},{"i":139,"v":121.17},
{"i":140,"v":117.69},{"i":141,"v":121.75},{"i":142,"v":124.27},{"i":143,"v":127.37},{"i":144,"v":127.56},{"i":145,"v":121.17},{"i":146,"v":120.0},{"i":147,"v":114.78},{"i":148,"v":114.97},{"i":149,"v":118.66},
{"i":150,"v":118.08},{"i":151,"v":119.43},{"i":152,"v":123.49},{"i":153,"v":124.08},{"i":154,"v":126.89},{"i":155,"v":130.4},{"i":156,"v":130.33},{"i":157,"v":135.5},{"i":158,"v":132.51},{"i":159,"v":129.52},
{"i":160,"v":129.0},{"i":161,"v":131.81},{"i":162,"v":134.45},{"i":163,"v":128.64},{"i":164,"v":131.98},{"i":165,"v":134.97},{"i":166,"v":137.96},{"i":167,"v":138.14},{"i":168,"v":134.45},{"i":169,"v":134.2},
{"i":170,"v":134.45},{"i":171,"v":129.17},{"i":172,"v":133.04},{"i":173,"v":134.97},{"i":174,"v":135.26},{"i":175,"v":138.49},{"i":176,"v":134.9},{"i":177,"v":135.5},{"i":178,"v":134.1},{"i":179,"v":133.15},
{"i":180,"v":132.34},{"i":181,"v":134.62},{"i":182,"v":131.81},{"i":183,"v":131.1},{"i":184,"v":132.34},{"i":185,"v":135.49}
],
"pricebox": [{"x1": 237.1, "x2": 246.5, "y1": 134.83, "y2": 136.12, "i": 237.75, "v": 135.49, "t": "135.490"}],
"monotext": [
{"i": 0.45, "v": 172.28, "t": "EUR/JPY(A)( 週, 2000/03/24 - 2009/10/16 )\u00a0\u00a0\u00a0一目均衡表( 9, 26, 52 )"},
{"i": 145.6, "v": 170.17, "t": "←最高 : 169.974 (2008/07/25)"},
{"i": 171.45, "v": 112.58, "t": "←最安 : 112.056 (2009/01/23)"}
],
"notes": [
{"i": 28.1, "v": 124.5, "t": "ユーロ円週足"},
{"i": 28.1, "v": 122.6, "t": "先々週の陽線坊主の続きとしては、完璧な上昇波継続となった。"},
{"i": 28.1, "v": 120.7, "t": "遅行線はそのまま週足下値をなぞると思いきや、完全に実線上に浮上。"},
{"i": 28.1, "v": 118.7, "t": "今度は6月初旬高値越えを試す雰囲気か?"}
]
},
"encoding": {
"x": {"field": "i", "type": "quantitative", "scale": {"domain": [-0.217, 236.95], "nice": false, "zero": false}, "axis": null}
},
"layer": [
{"data": {"name": "frame"}, "mark": {"type": "rule", "color": "#b8e0e0", "strokeWidth": 1},
"encoding": {
"x": {"field": "x1", "type": "quantitative", "scale": {"domain": [-0.217, 236.95], "nice": false, "zero": false}, "axis": null},
"x2": {"field": "x2"},
"y": {"field": "y1", "type": "quantitative", "scale": {"domain": [111.0, 173.23], "nice": false, "zero": false},
"axis": {"orient": "left", "values": [116.27, 121.27, 126.27, 131.27, 136.27, 141.27, 146.27, 151.27, 156.27, 161.27, 166.27, 171.27], "format": ".3f", "tickSize": 5, "labelPadding": 3}},
"y2": {"field": "y2"}}},
{"data": {"name": "cloud"}, "mark": {"type": "rule", "strokeWidth": 1},
"encoding": {
"x": {"field": "i", "type": "quantitative", "scale": {"domain": [-0.217, 236.95], "nice": false, "zero": false},
"axis": {"orient": "bottom", "values": [13.1, 64.95, 117.9, 170.0, 209.1, 224.95], "labelExpr": "datum.value < 30 ? '2006' : datum.value < 90 ? '2007' : datum.value < 150 ? '2008' : datum.value < 190 ? '2009' : datum.value < 215 ? '09/10' : '09/11'", "labelAlign": "left", "labelBaseline": "top", "tickSize": 7, "labelPadding": 0}},
"y": {"field": "a", "type": "quantitative", "scale": {"domain": [111.0, 173.23], "nice": false, "zero": false},
"axis": {"orient": "right", "values": [116.27, 121.27, 126.27, 131.27, 136.27, 141.27, 146.27, 151.27, 156.27, 161.27, 166.27, 171.27], "format": ".3f", "tickSize": 5, "labelPadding": 2}},
"y2": {"field": "b"},
"color": {"condition": {"test": "datum.a >= datum.b", "value": "#c05a3c"}, "value": "#8a8af0"}}},
{"data": {"name": "cloud"}, "mark": {"type": "line", "color": "#ffc89a", "strokeWidth": 1},
"encoding": {"y": {"field": "a", "type": "quantitative", "scale": {"domain": [111.0, 173.23], "nice": false, "zero": false}, "axis": null}}},
{"data": {"name": "cloud"}, "mark": {"type": "line", "color": "#a8a8dc", "strokeWidth": 1},
"encoding": {"y": {"field": "b", "type": "quantitative", "scale": {"domain": [111.0, 173.23], "nice": false, "zero": false}, "axis": null}}},
{"data": {"name": "candles"}, "mark": {"type": "rule", "strokeWidth": 1},
"encoding": {
"y": {"field": "l", "type": "quantitative", "scale": {"domain": [111.0, 173.23], "nice": false, "zero": false}, "axis": null},
"y2": {"field": "h"},
"color": {"condition": {"test": "datum.c >= datum.o", "value": "#f05a2a"}, "value": "#5ab0ff"}}},
{"data": {"name": "candles"}, "mark": {"type": "bar", "size": 4, "strokeWidth": 1},
"encoding": {
"y": {"field": "o", "type": "quantitative", "scale": {"domain": [111.0, 173.23], "nice": false, "zero": false}, "axis": null},
"y2": {"field": "c"},
"fill": {"condition": {"test": "datum.c >= datum.o", "value": "#f05a2a"}, "value": "#2a5ad8"},
"stroke": {"condition": {"test": "datum.c >= datum.o", "value": "#e04a20"}, "value": "#62b8ff"}}},
{"data": {"name": "lines"}, "mark": {"type": "line", "color": "#1c1cd0", "strokeWidth": 1.2},
"encoding": {"y": {"field": "kj", "type": "quantitative", "scale": {"domain": [111.0, 173.23], "nice": false, "zero": false}, "axis": null}}},
{"data": {"name": "lines"}, "mark": {"type": "line", "color": "#e01c1c", "strokeWidth": 1},
"encoding": {"y": {"field": "tk", "type": "quantitative", "scale": {"domain": [111.0, 173.23], "nice": false, "zero": false}, "axis": null}}},
{"data": {"name": "chikou"}, "mark": {"type": "line", "color": "#1f9a1f", "strokeWidth": 3.5, "strokeJoin": "round"},
"encoding": {"y": {"field": "v", "type": "quantitative", "scale": {"domain": [111.0, 173.23], "nice": false, "zero": false}, "axis": null}}},
{"data": {"name": "pricebox"}, "mark": {"type": "rect", "color": "#ff1414"},
"encoding": {
"x": {"field": "x1", "type": "quantitative", "scale": {"domain": [-0.217, 236.95], "nice": false, "zero": false}, "axis": null},
"x2": {"field": "x2"},
"y": {"field": "y1", "type": "quantitative", "scale": {"domain": [111.0, 173.23], "nice": false, "zero": false}, "axis": null},
"y2": {"field": "y2"}}},
{"data": {"name": "pricebox"}, "mark": {"type": "text", "align": "left", "baseline": "middle", "font": "DejaVu Sans Mono", "fontSize": 10.5, "color": "#b8d8ff"},
"encoding": {"y": {"field": "v", "type": "quantitative", "scale": {"domain": [111.0, 173.23], "nice": false, "zero": false}, "axis": null}, "text": {"field": "t"}}},
{"data": {"name": "monotext"}, "mark": {"type": "text", "align": "left", "baseline": "middle", "font": "DejaVu Sans Mono, Noto Sans CJK JP", "fontSize": 10.5, "color": "#ffffff"},
"encoding": {"y": {"field": "v", "type": "quantitative", "scale": {"domain": [111.0, 173.23], "nice": false, "zero": false}, "axis": null}, "text": {"field": "t"}}},
{"data": {"name": "notes"}, "mark": {"type": "text", "align": "left", "baseline": "middle", "font": "Noto Sans CJK JP", "fontSize": 17, "color": "#ffffff"},
"encoding": {"y": {"field": "v", "type": "quantitative", "scale": {"domain": [111.0, 173.23], "nice": false, "zero": false}, "axis": null}, "text": {"field": "t"}}}
],
"resolve": {"axis": {"x": "independent", "y": "independent"}}
}
